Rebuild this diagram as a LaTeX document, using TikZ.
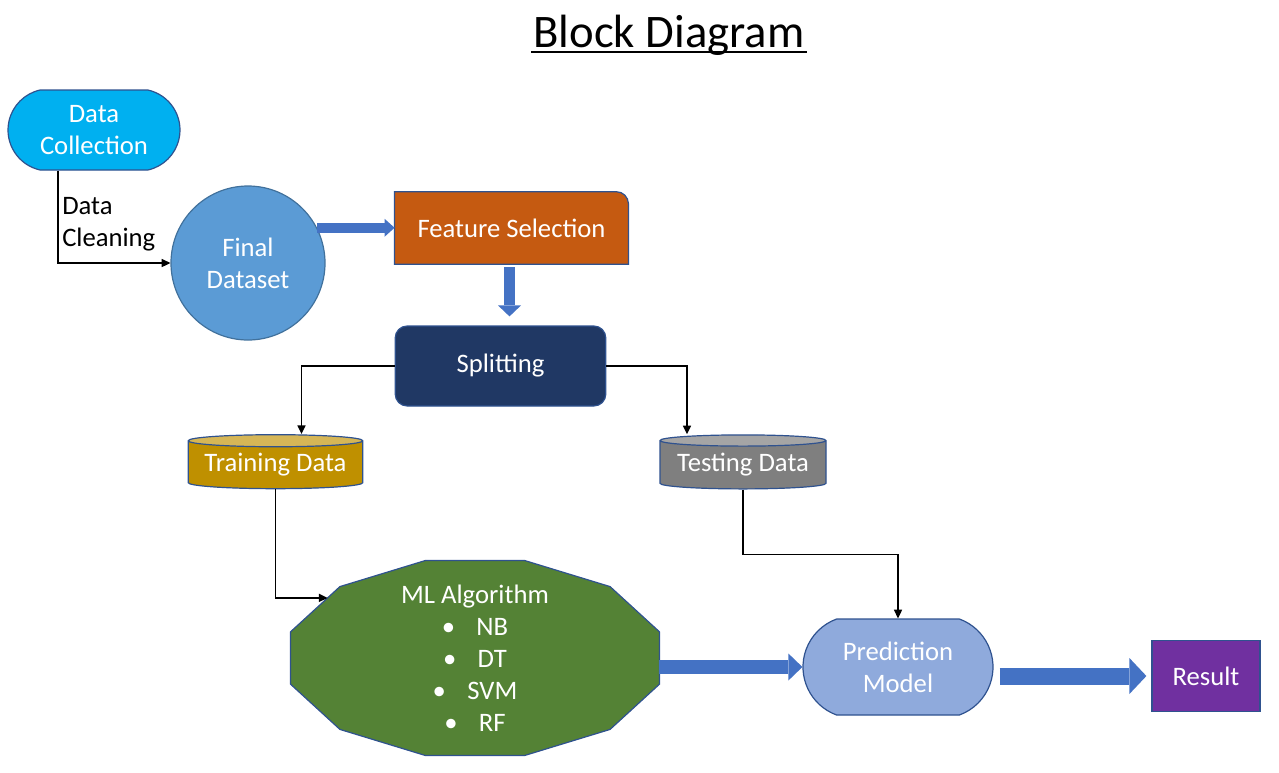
\documentclass[tikz,border=0pt]{standalone}
\usepackage{fontspec}
\setmainfont{Carlito}
\usepackage{xcolor}
\usepackage{tikz}
\usetikzlibrary{shapes.geometric, shapes.misc, arrows.meta, positioning, calc, backgrounds}

\definecolor{edgeblue}{HTML}{2F528F}
\definecolor{dccyan}{HTML}{00B0F0}
\definecolor{fdblue}{HTML}{5B9BD5}
\definecolor{fdedge}{HTML}{41719C}
\definecolor{fsorange}{HTML}{C55A11}
\definecolor{spnavy}{HTML}{203864}
\definecolor{trgold}{HTML}{BF9000}
\definecolor{trtop}{HTML}{D6B656}
\definecolor{tegray}{HTML}{7F7F7F}
\definecolor{tetop}{HTML}{A5A5A5}
\definecolor{mlgreen}{HTML}{548235}
\definecolor{pmblue}{HTML}{8FAADC}
\definecolor{respurple}{HTML}{7030A0}
\definecolor{arrowblue}{HTML}{4472C4}

\begin{document}
\begin{tikzpicture}[x=0.75pt, y=-0.75pt,
    every node/.style={font=\fontsize{20}{24}\selectfont},
    term/.style={rounded rectangle, draw=edgeblue, line width=0.9pt,
                 text=white, align=center, inner sep=0pt},
    box/.style={rectangle, draw=edgeblue, line width=0.9pt,
                text=white, align=center},
    datacyl/.style={cylinder, shape border rotate=90, aspect=0.085,
                    draw=edgeblue, line width=0.9pt, cylinder uses custom fill,
                    text=white, inner sep=0pt},
    arrow/.style={-{Triangle[length=6.5pt, width=6pt]}, line width=1.2pt},
    fatarrow/.style 2 args={draw=arrowblue, line width=#1,
                    -{Triangle[length=#1, width=#2, line width=0pt]}}
]
\useasboundingbox (0,0) rectangle (1279,772);

% --- title ---
\node (title) [anchor=base, inner sep=0pt, font=\fontsize{35}{42}\selectfont] at (669,47) {Block Diagram};
\draw [line width=1.5pt] ($(title.base west)+(-2,5)$) -- ($(title.base east)+(2,5)$);

% --- preparation ---
\node (dc) [term, fill=dccyan, minimum width=129pt, minimum height=60pt,
            rounded rectangle arc length=155] at (94,130) {Data\\Collection};
\node (fd) [circle, fill=fdblue, draw=fdedge, line width=0.9pt, minimum size=115.5pt,
            inner sep=0pt, text=white, align=center] at (248,263) {Final\\Dataset};
\node (clean) [anchor=west, align=left, inner sep=0pt] at ($(dc.south)+(-32,54)$) {Data\\Cleaning};
\node (fs) [minimum width=175pt, minimum height=54pt, inner sep=0pt, text=white] at (511.5,228) {Feature Selection};
\node (sp) [box, rounded corners=9pt, fill=spnavy, minimum width=158pt, minimum height=60pt] at (500.5,366) {Splitting};

% --- data sets ---
\node (tr) [datacyl, cylinder body fill=trgold, cylinder end fill=trtop,
            minimum width=131pt, minimum height=40.5pt] at (275.5,465) {Training Data};
\node (te) [datacyl, cylinder body fill=tegray, cylinder end fill=tetop,
            minimum width=124.5pt, minimum height=40.5pt] at (743,465) {Testing Data};

% --- model ---
\coordinate (mlc) at (475,658);
\node (ml) [text=white, align=center] at (mlc) {ML Algorithm\\
    \textbullet\hspace{16pt}NB\\ \textbullet\hspace{16pt}DT\\
    \textbullet\hspace{16pt}SVM\\ \textbullet\hspace{16pt}RF};
\node (pm) [term, fill=pmblue, minimum width=142.5pt, minimum height=72pt,
            rounded rectangle arc length=140] at (898,667) {Prediction\\Model};
\node (res) [box, fill=respurple, minimum width=81pt, minimum height=53pt] at (1206,676) {Result};

\begin{scope}[on background layer]
  \filldraw [fill=fsorange, draw=edgeblue, line width=0.9pt]
    (fs.south west) -- (fs.north west) [rounded corners=9pt] -- (fs.north east)
    [sharp corners] -- (fs.south east) -- cycle;
  \begin{scope}[shift={(mlc)}]
    \filldraw [fill=mlgreen, draw=edgeblue, line width=0.9pt]
      (15:191 and 101) coordinate (ml-15)
      \foreach \a in {45,75,...,345} { -- (\a:191 and 101) coordinate (ml-\a) } -- cycle;
  \end{scope}
\end{scope}
\coordinate (mlin) at ($(ml-225)!0.25!(ml-195)$);

% --- arrows ---
\draw [arrow] ($(dc.south)+(-36,0)$) |- (fd.west);
\draw [fatarrow={7.5pt}{13.5pt}] (fd.27) -- (fd.27 -| fs.west);
\draw [fatarrow={8.25pt}{17.25pt}] ($(fs.south)+(-2,3)$) -- ($(fs.south |- sp.north)+(-2,-9)$);
\draw [arrow] (sp.west) -| ($(tr.north)+(26,0)$);
\draw [arrow] (sp.east) -| ($(te.north)+(-56,0)$);
\draw [arrow] (tr.south) |- (mlin);
\draw [arrow] (te.south) -- ++(0,65) -| (pm.north);
\draw [fatarrow={10.5pt}{20.25pt}] (pm.west -| ml-15) -- (pm.west);
\draw [fatarrow={12.75pt}{27pt}] ($(pm.east |- res.west)+(6,0)$) -- ($(res.west)+(-5,0)$);
\end{tikzpicture}
\end{document}
